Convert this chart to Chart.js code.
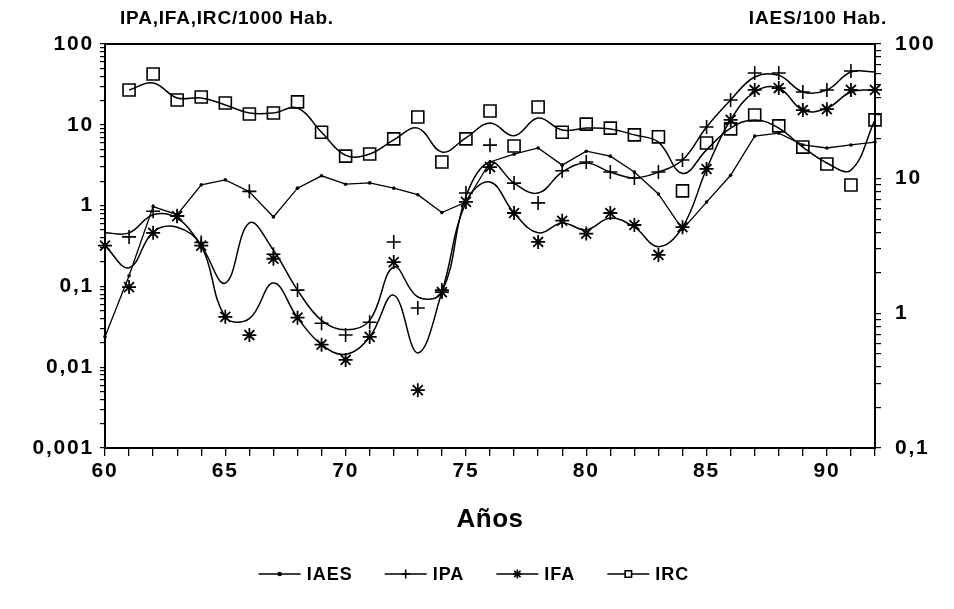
<!DOCTYPE html>
<html>
<head>
<meta charset="utf-8">
<script src="https://cdn.jsdelivr.net/npm/chart.js@4.4.0/dist/chart.umd.min.js"></script>
<style>
  html, body { margin: 0; padding: 0; background: #fff; }
  #wrap { width: 954px; height: 609px; }
</style>
</head>
<body>
<div id="wrap"><canvas id="c" width="954" height="609"></canvas></div>
<script>
// años 60..92
const years = [60,61,62,63,64,65,66,67,68,69,70,71,72,73,74,75,76,77,78,79,80,81,82,83,84,85,86,87,88,89,90,91,92];

// IAES/100 Hab. (eje derecho), línea quebrada con puntos
const iaes = [0.67,1.9,6.2,5.4,9.0,9.8,8.0,5.2,8.5,10.5,9.1,9.3,8.5,7.6,5.6,6.7,13.3,15.2,16.9,12.6,16.0,14.7,11.2,7.7,4.2,6.7,10.6,20.7,21.8,17.8,16.9,17.8,18.7];

// curvas suavizadas
const ipaCurve = [0.46,0.46,0.77,0.70,0.32,0.11,0.61,0.28,0.09,0.038,0.029,0.038,0.174,0.074,0.085,1.3,3.46,1.9,1.43,2.6,3.37,2.6,2.2,2.6,3.67,9.4,20.3,39,41,25.5,27,45,45];
const ifaCurve = [0.32,0.17,0.47,0.54,0.32,0.042,0.04,0.11,0.041,0.019,0.0145,0.0237,0.078,0.015,0.085,1.1,1.96,0.81,0.46,0.61,0.5,0.70,0.54,0.31,0.54,2.84,11.5,25.5,28.5,15.2,16,25.5,27];
const ircCurve = [null,27,32.9,21.5,21.5,17.6,14.0,14.0,16.1,8.1,4.2,4.35,6.5,9.1,4.6,6.9,10.5,7.3,12.1,8.6,9.1,8.9,7.5,6.1,2.5,4.9,9.1,11.5,9.1,5.3,3.37,2.75,11.5];

// valores observados (marcadores)
const ipaPts = [null,0.41,0.85,0.75,0.35,null,1.5,0.25,0.09,0.035,0.025,0.036,0.355,0.054,0.09,1.43,5.6,1.9,1.08,2.7,3.46,2.6,2.2,2.6,3.67,9.4,20.3,43.8,43.8,25.5,27,46.3,null];
const ifaPts = [0.32,0.098,0.46,0.74,0.32,0.042,0.025,0.22,0.041,0.019,0.0123,0.0237,0.2,0.0052,0.085,1.11,3.0,0.81,0.355,0.65,0.45,0.81,0.575,0.245,0.54,2.84,11.5,27,28.5,15.2,15.6,27,27];
const ircPts = [null,27,42.5,20.3,22.1,18.6,13.6,14.0,19.2,8.1,4.1,4.35,6.7,12.5,3.47,6.7,14.8,5.47,16.6,8.1,10.2,9.1,7.5,7.1,1.52,5.96,8.9,13.2,9.7,5.3,3.27,1.8,11.5];

const leftTickValues = [0.001,0.01,0.1,1,10,100];
const leftTickLabels = ['0,001','0,01','0,1','1','10','100'];
const rightTickValues = [0.1,1,10,100];
const rightTickLabels = ['0,1','1','10','100'];
const xLabelYears = [60,65,70,75,80,85,90];

const legendNames = ['IAES','IPA','IFA','IRC'];
const legendStyles = ['circle','cross','star','rect'];

const FONT = 'Liberation Sans, Arial, Helvetica, sans-serif';

const toXY = arr => years.map((x, i) => ({x: x, y: arr[i]})).filter(p => p.y != null);

function logTicks(lo, hi) {
  const t = [];
  for (let e = Math.round(Math.log10(lo)); e < Math.round(Math.log10(hi)); e++) {
    for (let m = 1; m < 10; m++) t.push({value: +(m * Math.pow(10, e)).toPrecision(3)});
  }
  t.push({value: hi});
  return t;
}

function labelFor(values, labels) {
  return v => {
    const k = values.findIndex(t => Math.abs(Math.log10(v) - Math.log10(t)) < 1e-6);
    return k >= 0 ? labels[k] : '';
  };
}

const frame = {
  id: 'frame',
  beforeDraw(chart) {
    // letras espaciadas como en el original
    chart.ctx.letterSpacing = '1.8px';
  },
  afterDraw(chart) {
    const {ctx, chartArea: a} = chart;
    ctx.save();
    ctx.strokeStyle = '#000';
    ctx.lineWidth = 2;
    ctx.strokeRect(a.left, a.top, a.right - a.left, a.bottom - a.top);

    ctx.fillStyle = '#000';
    ctx.letterSpacing = '0.8px';
    ctx.font = 'bold 19px ' + FONT;
    ctx.textBaseline = 'middle';
    ctx.textAlign = 'left';
    ctx.fillText('IPA,IFA,IRC/1000 Hab.', 120, 19);
    ctx.textAlign = 'right';
    ctx.fillText('IAES/100 Hab.', 887, 19);

    // título del eje x
    ctx.letterSpacing = '0.5px';
    ctx.font = 'bold 26px ' + FONT;
    ctx.textAlign = 'center';
    ctx.fillText('Años', (a.left + a.right) / 2, 520);

    // leyenda
    ctx.letterSpacing = '1px';
    ctx.font = 'bold 18px ' + FONT;
    const lineW = 42, gap = 6, space = 32, y = 574;
    const widths = legendNames.map(n => ctx.measureText(n).width);
    let total = 0;
    widths.forEach(w => total += lineW + gap + w);
    total += space * (legendNames.length - 1);
    let x = 474 - total / 2;
    legendNames.forEach((n, i) => {
      ctx.lineWidth = 1.6;
      ctx.beginPath();
      ctx.moveTo(x, y);
      ctx.lineTo(x + lineW, y);
      ctx.stroke();
      const st = legendStyles[i];
      ctx.fillStyle = st === 'circle' ? '#000' : '#fff';
      Chart.helpers.drawPoint(ctx, {pointStyle: st, radius: st === 'circle' ? 1.5 : 4.5, rotation: 0, borderWidth: 1.4}, x + lineW / 2, y);
      ctx.fillStyle = '#000';
      ctx.textAlign = 'left';
      ctx.fillText(n, x + lineW + gap, y + 1);
      x += lineW + gap + widths[i] + space;
    });
    ctx.restore();
    ctx.letterSpacing = '0px';
  }
};

const curve = (arr, axis) => ({
  data: toXY(arr), yAxisID: axis, borderColor: '#000', borderWidth: 1.5,
  pointRadius: 0, tension: 0.4, fill: false, order: 2, clip: false
});
const marks = (arr, style, r, bw) => ({
  data: toXY(arr), yAxisID: 'y', showLine: false, pointStyle: style, pointRadius: r,
  borderColor: '#000', backgroundColor: 'rgba(255,255,255,0)', pointBorderWidth: bw,
  order: 1, clip: false
});

const tickFont = { family: FONT, size: 21, weight: 'bold' };

new Chart(document.getElementById('c'), {
  type: 'line',
  data: {
    datasets: [
      { data: toXY(iaes), yAxisID: 'y2', borderColor: '#000', borderWidth: 1.3, tension: 0,
        pointRadius: 1.8, pointBackgroundColor: '#000', pointBorderWidth: 0, order: 2, clip: false },
      curve(ipaCurve, 'y'),
      curve(ifaCurve, 'y'),
      curve(ircCurve, 'y'),
      marks(ipaPts, 'cross', 7, 1.6),
      marks(ifaPts, 'star', 7, 1.8),
      marks(ircPts, 'rect', 8.5, 1.6)
    ]
  },
  options: {
    responsive: false,
    animation: false,
    events: [],
    layout: { padding: { top: 44, bottom: 61, left: 0, right: 0 } },
    plugins: { legend: { display: false }, tooltip: { enabled: false } },
    scales: {
      x: {
        type: 'linear', min: 60, max: 92, position: 'bottom',
        afterBuildTicks: s => { s.ticks = years.map(v => ({value: v})); },
        afterFit: s => { s.height = 100; },
        ticks: { autoSkip: false, maxRotation: 0, padding: 3, color: '#000', font: tickFont,
          callback: v => xLabelYears.includes(v) ? String(v) : '' },
        grid: { drawOnChartArea: false, drawTicks: true, tickLength: 8, color: '#000', lineWidth: 1.3 },
        border: { display: true, color: '#000', width: 2 }
      },
      y: {
        type: 'logarithmic', min: 0.001, max: 100, position: 'left',
        afterBuildTicks: s => { s.ticks = logTicks(0.001, 100); },
        afterFit: s => { s.width = 105; },
        ticks: { autoSkip: false, padding: 6, color: '#000', font: tickFont,
          callback: labelFor(leftTickValues, leftTickLabels) },
        grid: { drawOnChartArea: false, drawTicks: true, tickLength: 5, color: '#000', lineWidth: 1.2 },
        border: { display: true, color: '#000', width: 2 }
      },
      y2: {
        type: 'logarithmic', min: 0.1, max: 100, position: 'right',
        afterBuildTicks: s => { s.ticks = logTicks(0.1, 100); },
        afterFit: s => { s.width = 79; },
        ticks: { autoSkip: false, padding: 14, color: '#000', font: tickFont,
          callback: labelFor(rightTickValues, rightTickLabels) },
        grid: { drawOnChartArea: false, drawTicks: true, tickLength: 6, color: '#000', lineWidth: 1.2 },
        border: { display: true, color: '#000', width: 2 }
      }
    }
  },
  plugins: [frame]
});
</script>
</body>
</html>
